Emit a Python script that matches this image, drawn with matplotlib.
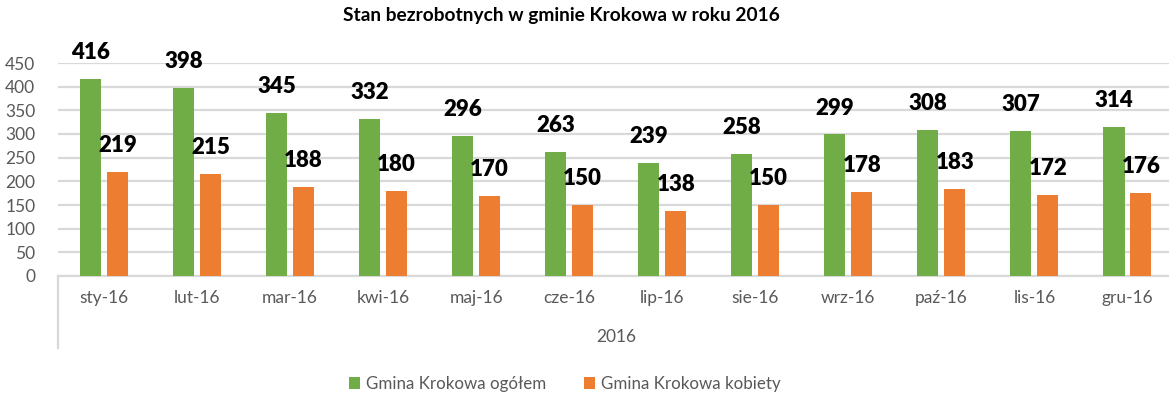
import matplotlib
matplotlib.use("Agg")
import matplotlib.pyplot as plt
import numpy as np

months = ["sty-16", "lut-16", "mar-16", "kwi-16", "maj-16", "cze-16",
          "lip-16", "sie-16", "wrz-16", "paź-16", "lis-16", "gru-16"]
total = [416, 398, 345, 332, 296, 263, 239, 258, 299, 308, 307, 314]
women = [219, 215, 188, 180, 170, 150, 138, 150, 178, 183, 172, 176]
yticks = [0, 50, 100, 150, 200, 250, 300, 350, 400, 450]
year_label = "2016"
title = "Stan bezrobotnych w gminie Krokowa w roku 2016"
series_names = ["Gmina Krokowa ogółem", "Gmina Krokowa kobiety"]

GREEN = "#70AD47"
ORANGE = "#ED7D31"
GRID = "#D9D9D9"
TICK = "#595959"
FONT = ["Lato", "DejaVu Sans"]

W, H = 1169, 398
fig = plt.figure(figsize=(W / 100, H / 100), dpi=100)
plt.rcParams["font.family"] = FONT

left_px, right_px, bottom_px, top_px = 57.5, 1174, 276, 63
ax = fig.add_axes([left_px / W, 1 - bottom_px / H,
                   (right_px - left_px) / W, (bottom_px - top_px) / H])

x = np.arange(len(months))
bw = 0.226
off = 0.145
b1 = ax.bar(x - off, total, bw, color=GREEN, zorder=3, label=series_names[0])
b2 = ax.bar(x + off, women, bw, color=ORANGE, zorder=3, label=series_names[1])

for bars, vals in ((b1, total), (b2, women)):
    for r, v in zip(bars, vals):
        ax.annotate(str(v), (r.get_x() + r.get_width() / 2, v),
                    xytext=(0, 11.5), textcoords="offset points",
                    ha="center", va="bottom", fontsize=16, fontweight="heavy",
                    color="black", annotation_clip=False, clip_on=False)

ax.set_xlim(-0.5, len(months) - 0.5)
ax.set_ylim(0, 450)
ax.set_yticks(yticks)
ax.yaxis.grid(True, color=GRID, linewidth=1.6, zorder=0)
ax.set_axisbelow(True)
for s in ("top", "right", "left"):
    ax.spines[s].set_visible(False)
ax.spines["bottom"].set_color(GRID)
ax.spines["bottom"].set_linewidth(1.6)
ax.tick_params(axis="y", length=0, pad=16, labelsize=12.5, labelcolor=TICK)
ax.tick_params(axis="x", length=0, pad=10, labelsize=12.5, labelcolor=TICK)
ax.set_xticks(x)
ax.set_xticklabels(months)
for lbl in ax.get_yticklabels():
    lbl.set_horizontalalignment("right")

# outer category level: year label and left boundary line
ax.plot([-0.5, -0.5], [0, -(348 - 276) / (bottom_px - top_px) * 450],
        color=GRID, linewidth=1.6, clip_on=False, zorder=1)
fig.text((left_px + right_px) / 2 / W, 1 - 337 / H, year_label,
         ha="center", va="center", fontsize=12.5, color=TICK)

fig.text(561 / W, 1 - 16 / H, title, ha="center", va="center",
         fontsize=13.8, fontweight="bold", color="black")

leg = fig.legend(handles=[b1, b2], labels=series_names, loc="center",
                 bbox_to_anchor=(565 / W, 1 - 384 / H), ncol=2, frameon=False,
                 fontsize=12.2, handlelength=0.65, handleheight=0.65,
                 handletextpad=0.35, columnspacing=2.2)
for t in leg.get_texts():
    t.set_color(TICK)

fig.savefig("out.png", dpi=100)
